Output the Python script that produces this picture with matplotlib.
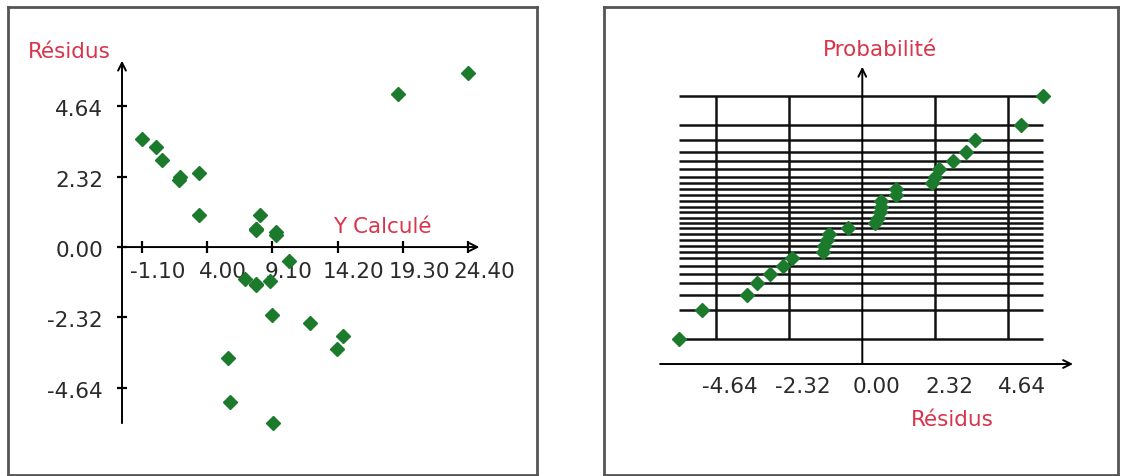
import numpy as np
import matplotlib
matplotlib.use("Agg")
import matplotlib.pyplot as plt
from matplotlib.transforms import offset_copy

# ---- data ----
y_calc = [-1.10, 0.02, 0.48, 1.79, 1.85, 3.39, 3.39, 8.13, 7.82, 7.82, 7.82,
          9.38, 9.38, 10.42, 6.96, 7.82, 7.82, 8.91, 9.07, 12.03, 14.61, 14.14,
          5.63, 5.79, 9.15, 18.92, 24.40]
residus = [3.58, 3.29, 2.87, 2.20, 2.31, 2.44, 1.06, 1.07, 0.58, 0.58, 0.56,
           0.40, 0.51, -0.46, -1.05, -1.24, -1.22, -1.13, -2.24, -2.51, -2.93, -3.35,
           -3.65, -5.10, -5.82, 5.04, 5.75]
# normal scores (probability levels)
prob_levels = [-2.086, -1.593, -1.325, -1.128, -0.967, -0.828, -0.704, -0.589,
               -0.482, -0.380, -0.282, -0.187, -0.093, 0.0, 0.093, 0.187, 0.282,
               0.380, 0.482, 0.589, 0.704, 0.828, 0.967, 1.128, 1.325, 1.593, 2.086]
xticks_left = [-1.10, 4.00, 9.10, 14.20, 19.30, 24.40]
yticks_left = [-4.64, -2.32, 0.00, 2.32, 4.64]
xticks_right = [-4.64, -2.32, 0.00, 2.32, 4.64]

W, H = 1123, 477
DPI = 100
fig = plt.figure(figsize=(W / DPI, H / DPI), dpi=DPI)
fig.patch.set_facecolor("white")

RED = "#d8344a"
GREEN = "#1b7a2c"
TXT = "#2a2a2a"
FRAME = "#555555"
FS = 15.5
FST = 15.5


def px_axes(x0, y0, x1, y1):
    return fig.add_axes([x0 / W, 1 - y1 / H, (x1 - x0) / W, (y1 - y0) / H])


def style_frame(ax):
    ax.set_xticks([])
    ax.set_yticks([])
    for s in ax.spines.values():
        s.set_color(FRAME)
        s.set_linewidth(2)


def arrow(ax, start, end):
    ax.annotate("", xy=end, xytext=start, xycoords="data",
                arrowprops=dict(arrowstyle="->", lw=1.4, color="black",
                                mutation_scale=14, shrinkA=0, shrinkB=0),
                annotation_clip=False)


# ================= left panel =================
axL = px_axes(8, 8, 537, 476)
style_frame(axL)
axL.set_xlim(-11.533, 29.747)
axL.set_ylim(-7.52, 7.92)
yaxis_x = -2.637

arrow(axL, (-2.87, 0), (25.25, 0))
arrow(axL, (yaxis_x, -5.81), (yaxis_x, 6.15))
axL.plot(xticks_left, [0] * len(xticks_left), ls="none", marker="|",
         ms=8, mew=1.6, color="black")
axL.plot([yaxis_x] * len(yticks_left), yticks_left, ls="none", marker="_",
         ms=7, mew=1.6, color="black")

tx = offset_copy(axL.transData, fig=fig, x=16, y=-24, units="dots")
for t in xticks_left:
    axL.text(t, 0, f"{t:.2f}", transform=tx, ha="center", va="center",
             fontsize=FS, color=TXT)
ty = offset_copy(axL.transData, fig=fig, x=-19, y=-3, units="dots")
for t in yticks_left:
    axL.text(yaxis_x, t, f"{t:.2f}", transform=ty, ha="right", va="center",
             fontsize=FS, color=TXT)

axL.plot(y_calc, residus, ls="none", marker="D", ms=7, color=GREEN,
         mec=GREEN, zorder=5)

fig.text(28 / W, 1 - 52 / H, "Résidus", color=RED, fontsize=FST,
         ha="left", va="center")
fig.text(333 / W, 1 - 227 / H, "Y Calculé", color=RED, fontsize=FST,
         ha="left", va="center")

# ================= right panel =================
axR = px_axes(604, 8, 1118, 476)
style_frame(axR)
axR.set_xlim(-8.2, 8.117)
axR.set_ylim(-4.424, 3.617)
xaxis_z = -2.517

sorted_res = np.sort(np.array(residus))
axR.hlines(prob_levels, sorted_res.min(), sorted_res.max(), color="#111111",
           lw=1.8, zorder=1)
grid_v = [t for t in xticks_right if t != 0]
axR.vlines(grid_v, min(prob_levels), max(prob_levels), color="#111111",
           lw=1.8, zorder=1)
arrow(axR, (-6.42, xaxis_z), (6.69, xaxis_z))
arrow(axR, (0, xaxis_z), (0, 2.59))

txr = offset_copy(axR.transData, fig=fig, x=14, y=-22, units="dots")
for t in xticks_right:
    axR.text(t, xaxis_z, f"{t:.2f}", transform=txr, ha="center", va="center",
             fontsize=FS, color=TXT)

axR.plot(sorted_res, prob_levels, ls="none", marker="D", ms=7, color=GREEN,
         mec=GREEN, zorder=5)

fig.text(880 / W, 1 - 50 / H, "Probabilité", color=RED, fontsize=FST,
         ha="center", va="center")
fig.text(952 / W, 1 - 420 / H, "Résidus", color=RED, fontsize=FST,
         ha="center", va="center")

fig.savefig("out.png", dpi=DPI, facecolor="white")
